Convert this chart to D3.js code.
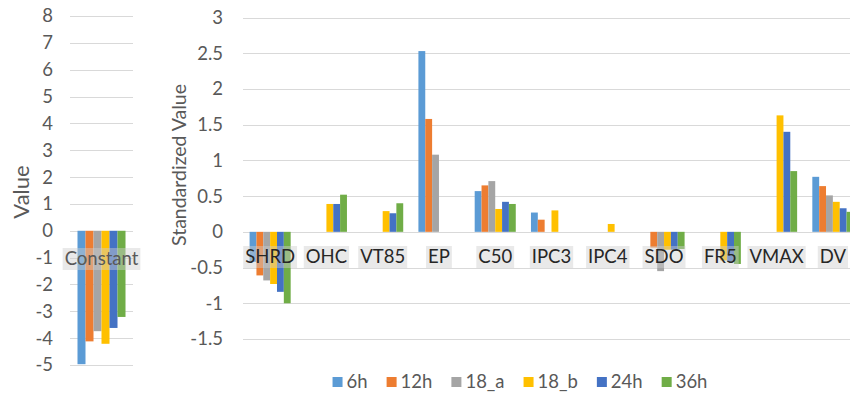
<!DOCTYPE html>
<html>
<head>
<meta charset="utf-8">
<script src="https://cdn.jsdelivr.net/npm/d3@7"></script>
<style>
  html, body { margin: 0; padding: 0; background: #fff; }
  svg { display: block; font-family: Lato, "Open Sans", sans-serif; }
</style>
</head>
<body>
<svg id="chart" width="850" height="393"></svg>
<script>
// ---- data ----
const seriesNames = ["6h", "12h", "18_a", "18_b", "24h", "36h"];
const seriesColors = ["#5B9BD5", "#ED7D31", "#A5A5A5", "#FFC000", "#4472C4", "#70AD47"];

const leftCategories = ["Constant"];
const constantValues = [-4.97, -4.12, -3.74, -4.21, -3.62, -3.21];
const leftTicks = [-5, -4, -3, -2, -1, 0, 1, 2, 3, 4, 5, 6, 7, 8];

const categories = ["SHRD", "OHC", "VT85", "EP", "C50", "IPC3", "IPC4", "SDO", "FR5", "VMAX", "DV"];
const values6h  = [-0.42, null, null, 2.53, 0.57, 0.27, null, null,  null,  null, 0.77];
const values12h = [-0.61, null, null, 1.58, 0.65, 0.17, null, -0.22, null,  null, 0.64];
const values18a = [-0.68, null, null, 1.08, 0.71, null, null, -0.55, null,  null, 0.51];
const values18b = [-0.73, 0.39, 0.29, null, 0.32, 0.30, 0.11, -0.25, -0.40, 1.63, 0.42];
const values24h = [-0.84, 0.39, 0.26, null, 0.42, null, null, -0.25, -0.42, 1.40, 0.33];
const values36h = [-1.00, 0.52, 0.40, null, 0.39, null, null, -0.24, -0.45, 0.85, 0.28];
const rightTicks = [-1.5, -1, -0.5, 0, 0.5, 1, 1.5, 2, 2.5, 3];

const rightSeries = [values6h, values12h, values18a, values18b, values24h, values36h];

// ---- drawing ----
const svg = d3.select("#chart");
const gridColor = "#d9d9d9";
const tickColor = "#595959";

// Left panel
const yL = d3.scaleLinear().domain([-5, 8]).range([365, 16]);
const xL = d3.scaleBand().domain(leftCategories).range([70, 133]).paddingInner(0.238).paddingOuter(0.119);
const xLInner = d3.scaleBand().domain(seriesNames).range([0, xL.bandwidth()]);

const gL = svg.append("g");
gL.selectAll("line.grid").data(leftTicks).join("line")
  .attr("x1", 70).attr("x2", 133)
  .attr("y1", d => Math.round(yL(d)) + 0.5).attr("y2", d => Math.round(yL(d)) + 0.5)
  .attr("stroke", gridColor).attr("stroke-width", 1);
gL.selectAll("text.tick").data(leftTicks).join("text")
  .attr("x", 53).attr("y", d => yL(d)).attr("dy", "0.35em")
  .attr("text-anchor", "end").attr("fill", tickColor).attr("font-size", 18.5)
  .text(d => d);

leftCategories.forEach((cat, ci) => {
  gL.selectAll("rect.bar" + ci).data(constantValues).join("rect")
    .attr("x", (d, i) => xL(cat) + xLInner(seriesNames[i]))
    .attr("width", xLInner.bandwidth())
    .attr("y", d => yL(Math.max(0, d)))
    .attr("height", d => Math.abs(yL(d) - yL(0)))
    .attr("fill", (d, i) => seriesColors[i]);
});

function drawLabel(g, x, y, text, color) {
  const lg = g.append("g");
  const rect = lg.append("rect");
  const t = lg.append("text").attr("x", x).attr("y", y).attr("dy", "0.35em")
    .attr("text-anchor", "middle").attr("font-size", 18.5).attr("fill", color).text(text);
  const w = t.node().getComputedTextLength();
  rect.attr("x", x - w / 2 - 2).attr("y", y - 11).attr("width", w + 4).attr("height", 22)
    .attr("fill", "#cfcfcf").attr("opacity", 0.45);
}
leftCategories.forEach(cat => drawLabel(gL, xL(cat) + xL.bandwidth() / 2, 259, cat, "#595959"));

gL.append("text")
  .attr("transform", "translate(21,192) rotate(-90)")
  .attr("text-anchor", "middle").attr("dy", "0.35em")
  .attr("font-size", 22).attr("fill", tickColor).text("Value");

// Right panel
const yR = d3.scaleLinear().domain([-1.5, 3]).range([339, 17.5]);
const xR = d3.scaleBand().domain(categories).range([242, 861]).paddingInner(0.27).paddingOuter(0.135);
const xRInner = d3.scaleBand().domain(seriesNames).range([0, xR.bandwidth()]);

const gR = svg.append("g");
gR.selectAll("line.grid").data(rightTicks).join("line")
  .attr("x1", 243).attr("x2", 861)
  .attr("y1", d => Math.round(yR(d)) + 0.5).attr("y2", d => Math.round(yR(d)) + 0.5)
  .attr("stroke", gridColor).attr("stroke-width", 1);
gR.selectAll("text.tick").data(rightTicks).join("text")
  .attr("x", 223).attr("y", d => yR(d)).attr("dy", "0.35em")
  .attr("text-anchor", "end").attr("fill", tickColor).attr("font-size", 18.5)
  .text(d => d);

rightSeries.forEach((vals, si) => {
  const pts = vals.map((v, ci) => ({ cat: categories[ci], v })).filter(p => p.v !== null);
  gR.selectAll("rect.s" + si).data(pts).join("rect")
    .attr("x", p => xR(p.cat) + xRInner(seriesNames[si]))
    .attr("width", xRInner.bandwidth())
    .attr("y", p => yR(Math.max(0, p.v)))
    .attr("height", p => Math.abs(yR(p.v) - yR(0)))
    .attr("fill", seriesColors[si]);
});

categories.forEach(cat => drawLabel(gR, xR(cat) + xR.bandwidth() / 2, 257, cat, "#262626"));

gR.append("text")
  .attr("transform", "translate(179,165) rotate(-90)")
  .attr("text-anchor", "middle").attr("dy", "0.35em")
  .attr("font-size", 19.5).attr("fill", tickColor).text("Standardized Value");

// Legend
const lg = svg.append("g");
const items = seriesNames.map((name, i) => {
  const g = lg.append("g");
  g.append("rect").attr("width", 10).attr("height", 10).attr("y", -5).attr("fill", seriesColors[i]);
  const t = g.append("text").attr("x", 14).attr("dy", "0.35em").attr("font-size", 18.5)
    .attr("fill", tickColor).text(name);
  return { g, w: 14 + t.node().getComputedTextLength() };
});
const gap = 19;
const totalW = d3.sum(items, d => d.w) + gap * (items.length - 1);
let lx = 520 - totalW / 2;
items.forEach(it => { it.g.attr("transform", `translate(${lx},382)`); lx += it.w + gap; });
</script>
</body>
</html>
